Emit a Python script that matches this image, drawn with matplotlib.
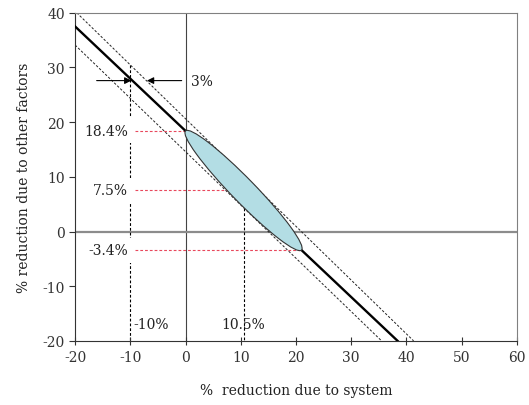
import numpy as np
import matplotlib
matplotlib.use("Agg")
import matplotlib.pyplot as plt
from matplotlib.patches import Ellipse

plt.rcParams["font.family"] = ["DejaVu Serif"]
plt.rcParams["axes.unicode_minus"] = False

# main relation line (two visible parts, ellipse sits between them)
main_upper_x = [-20, 0]
main_upper_y = [37.5, 18.4]
main_lower_x = [21, 38.4]
main_lower_y = [-3.4, -20]

# +/- 3% bands
band_hi_x = [-19.7, 41.3]
band_hi_y = [40, -20]
band_lo_x = [-20, 35.5]
band_lo_y = [34.1, -20]

# confidence ellipse ends
ell_start = (0, 18.4)
ell_end = (21, -3.4)
ell_minor = 4.3

# marked levels
levels_y = [18.4, 7.5, -3.4]
levels_x_end = [0, 7.6, 20.5]
level_labels = ["18.4%", "7.5%", "-3.4%"]

xticks = [-20, -10, 0, 10, 20, 30, 40, 50, 60]
yticks = [-20, -10, 0, 10, 20, 30, 40]

fig = plt.figure(figsize=(5.29, 4.06), dpi=100)
ax = fig.add_axes([0.142, 0.158, 0.835, 0.808])

ax.set_xlim(-20, 60)
ax.set_ylim(-20, 40)

dash = (0, (2.5, 1.8))

# zero lines
ax.axvline(0, color="#444444", lw=0.8, zorder=1)
ax.axhline(0, color="#8c8c8c", lw=1.6, zorder=1)

# bands
ax.plot(band_hi_x, band_hi_y, color="#222222", lw=0.7, ls=dash, zorder=2)
ax.plot(band_lo_x, band_lo_y, color="#222222", lw=0.7, ls=dash, zorder=2)

# main line
ax.plot(main_upper_x, main_upper_y, color="k", lw=1.7, zorder=3)
ax.plot(main_lower_x, main_lower_y, color="k", lw=1.7, zorder=3)

# ellipse
cx = (ell_start[0] + ell_end[0]) / 2
cy = (ell_start[1] + ell_end[1]) / 2
dx = ell_end[0] - ell_start[0]
dy = ell_end[1] - ell_start[1]
ell = Ellipse((cx, cy), width=np.hypot(dx, dy), height=ell_minor,
              angle=np.degrees(np.arctan2(dy, dx)),
              facecolor="#b3dde4", edgecolor="#333333", lw=0.8, zorder=4)
ax.add_patch(ell)

# red level lines and labels
for yv, xe, lab in zip(levels_y, levels_x_end, level_labels):
    ax.plot([-9.2, xe], [yv, yv], color="#e8485c", lw=0.8, ls=dash, zorder=2)
    ax.text(-10.4, yv, lab, ha="right", va="center", fontsize=10, color="#222222",
            bbox=dict(facecolor="white", edgecolor="none", pad=4), zorder=5)

# vertical markers
ax.plot([-10, -10], [30.5, -20], color="k", lw=0.8, ls=dash, zorder=1.5)
ax.plot([10.5, 10.5], [4.3, -20], color="k", lw=0.8, ls=dash, zorder=1.5)
ax.text(-9.4, -17, "-10%", ha="left", va="center", fontsize=10, color="#222222")
ax.text(10.5, -17, "10.5%", ha="center", va="center", fontsize=10, color="#222222")

# 3% arrows
arr = dict(arrowstyle="-|>", color="k", lw=0.8, mutation_scale=10, shrinkA=0, shrinkB=0)
ax.annotate("", xy=(-9.8, 27.6), xytext=(-16.1, 27.6), arrowprops=arr)
ax.annotate("", xy=(-7.0, 27.6), xytext=(-0.7, 27.6), arrowprops=arr)
ax.text(1.0, 27.6, "3%", ha="left", va="center", fontsize=10, color="#222222")

ax.set_xticks(xticks)
ax.set_yticks(yticks)
ax.tick_params(axis="x", direction="inout", length=6, labelsize=10, colors="#333333")
ax.tick_params(axis="y", direction="out", length=4, labelsize=10, colors="#333333")
for s in ["left", "bottom"]:
    ax.spines[s].set_color("#333333")
for s in ["top", "right"]:
    ax.spines[s].set_color("#808080")

ax.set_xlabel("%  reduction due to system", fontsize=10, labelpad=14, color="#222222")
ax.set_ylabel("% reduction due to other factors", fontsize=10, labelpad=8, color="#222222")

fig.savefig("out.png", dpi=100)
